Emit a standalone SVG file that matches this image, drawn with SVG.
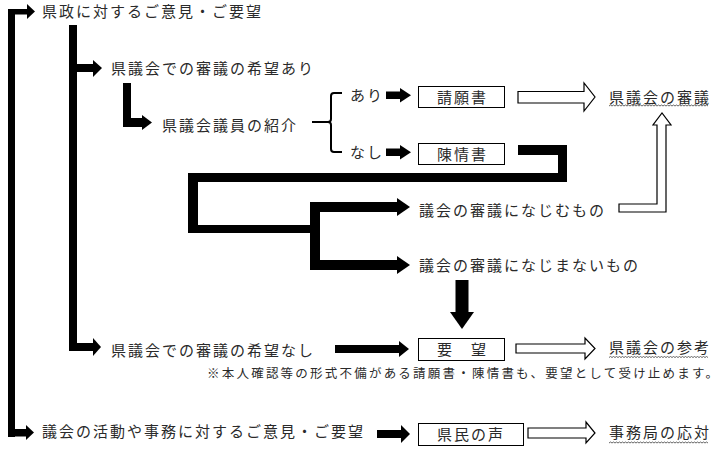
<svg xmlns="http://www.w3.org/2000/svg" width="720" height="449" viewBox="0 0 720 449">
<style>
text{font-family:"Noto Sans CJK JP","Noto Sans CJK SC",sans-serif;font-size:15px;letter-spacing:2px;fill:#2a2a2a}
.note{font-size:12.5px;letter-spacing:0}
.box{fill:#fff;stroke:#000;stroke-width:1}
.blk{fill:#000;stroke:none}
.hol{fill:#fff;stroke:#000;stroke-width:1.2;stroke-linejoin:miter}
.brace{fill:none;stroke:#000;stroke-width:2}
.wavy{fill:none;stroke:#555;stroke-width:0.9}
</style>
<defs>
  <path id="wave" d="M0,0 l1.5,-1 l1.5,1 l1.5,-1 l1.5,1 l1.5,-1 l1.5,1 l1.5,-1 l1.5,1 l1.5,-1 l1.5,1 l1.5,-1 l1.5,1 l1.5,-1 l1.5,1 l1.5,-1 l1.5,1 l1.5,-1 l1.5,1 l1.5,-1 l1.5,1 l1.5,-1 l1.5,1 l1.5,-1 l1.5,1 l1.5,-1 l1.5,1 l1.5,-1 l1.5,1 l1.5,-1 l1.5,1 l1.5,-1 l1.5,1 l1.5,-1 l1.5,1 l1.5,-1 l1.5,1 l1.5,-1 l1.5,1 l1.5,-1 l1.5,1 l1.5,-1 l1.5,1 l1.5,-1 l1.5,1 l1.5,-1 l1.5,1 l1.5,-1 l1.5,1 l1.5,-1 l1.5,1 l1.5,-1 l1.5,1 l1.5,-1 l1.5,1 l1.5,-1 l1.5,1 l1.5,-1 l1.5,1 l1.5,-1 l1.5,1 l1.5,-1 l1.5,1 l1.5,-1 l1.5,1 l1.5,-1 l1.5,1"/>
</defs>
<rect width="720" height="449" fill="#fff"/>
<g id="connectors">
  <rect class="blk" x="8" y="9" width="7" height="428"/>
  <rect class="blk" x="8" y="9" width="20" height="5.5"/>
  <polygon class="blk" points="27,4 35,11.5 27,19"/>
  <rect class="blk" x="8" y="429" width="19" height="7.5"/>
  <polygon class="blk" points="26,425 34,432.5 26,440"/>
  <rect class="blk" x="69" y="25" width="8" height="326"/>
  <rect class="blk" x="69" y="64" width="25" height="8"/>
  <polygon class="blk" points="93,60 102,68 93,77"/>
  <rect class="blk" x="69" y="343" width="25" height="8"/>
  <polygon class="blk" points="93,338 101,347 93,356"/>
  <rect class="blk" x="123" y="83" width="8" height="44"/>
  <rect class="blk" x="123" y="118" width="20" height="9"/>
  <polygon class="blk" points="142,115 152,122.5 142,130"/>
  <path class="brace" d="M312,122 H328 Q331,122 331,119 V96 Q331,93 334,93 H342"/>
  <path class="brace" d="M328,122 Q331,122 331,125 V149 Q331,152 334,152 H342"/>
  <rect class="blk" x="386" y="91.5" width="15" height="7.5"/>
  <polygon class="blk" points="400,88 411,95.3 400,102.5"/>
  <rect class="blk" x="386" y="148.5" width="15" height="7.5"/>
  <polygon class="blk" points="400,145 411,152.3 400,159.5"/>
  <polygon class="blk" points="518,145 567,145 567,182 198,182 198,225 320,225 320,233 188,233 188,173 558,173 558,155 518,155"/>
  <rect class="blk" x="310" y="202" width="10" height="68"/>
  <rect class="blk" x="310" y="202" width="88" height="10"/>
  <polygon class="blk" points="397,198 410,207 397,216"/>
  <rect class="blk" x="310" y="260" width="88" height="10"/>
  <polygon class="blk" points="397,256 410,265 397,274"/>
  <rect class="blk" x="455.5" y="280" width="13" height="33"/>
  <polygon class="blk" points="450,312 474,312 462,329"/>
  <rect class="blk" x="335" y="345" width="65" height="8"/>
  <polygon class="blk" points="399,341 409,349 399,357"/>
  <rect class="blk" x="377" y="430" width="25" height="8"/>
  <polygon class="blk" points="401,425 410,434 401,443"/>
  <polygon class="hol" points="518,91.5 584,91.5 584,83 595,97 584,111 584,103 518,103"/>
  <polygon class="hol" points="619,204 657,204 657,125 653,125 662,113 671,125 666,125 666,212 619,212"/>
  <polygon class="hol" points="516,344 585,344 585,338 595,348.5 585,359 585,353 516,353"/>
  <polygon class="hol" points="528,428 586,428 586,422 595,433 586,443 586,438 528,438"/>
</g>
<g id="n-kensei"><text x="42" y="17">県政に対するご意見・ご要望</text></g>
<g id="n-kibou-ari"><text x="111" y="74">県議会での審議の希望あり</text></g>
<g id="n-shoukai"><text x="162" y="131">県議会議員の紹介</text></g>
<g id="n-ari"><text x="350" y="100.5">あり</text></g>
<g id="n-nashi"><text x="350" y="157.5">なし</text></g>
<g id="n-seigansho"><rect class="box" x="418.5" y="86.5" width="86" height="21"/><text x="437" y="102.5">請願書</text></g>
<g id="n-chinjousho"><rect class="box" x="418.5" y="143.5" width="86" height="21"/><text x="437" y="159.5">陳情書</text></g>
<g id="n-shingi"><text x="609" y="102.5">県議会の審議</text><use href="#wave" class="wavy" x="609" y="106"/></g>
<g id="n-najimu"><text x="419" y="215.5">議会の審議になじむもの</text></g>
<g id="n-najimanai"><text x="419" y="270.5">議会の審議になじまないもの</text></g>
<g id="n-kibou-nashi"><text x="111" y="355.5">県議会での審議の希望なし</text></g>
<g id="n-youbou"><rect class="box" x="418.5" y="338.5" width="86" height="22"/><text x="437" y="355">要　望</text></g>
<g id="n-sankou"><text x="609" y="353">県議会の参考</text><use href="#wave" class="wavy" x="609" y="357.5"/></g>
<g id="n-note"><text class="note" x="207" y="378" textLength="511" lengthAdjust="spacing">※本人確認等の形式不備がある請願書・陳情書も、要望として受け止めます。</text></g>
<g id="n-gikai"><text x="42" y="437">議会の活動や事務に対するご意見・ご要望</text></g>
<g id="n-kenmin"><rect class="box" x="418.5" y="423.5" width="105" height="22"/><text x="437" y="439.5">県民の声</text></g>
<g id="n-jimukyoku"><text x="609" y="437.5">事務局の応対</text><use href="#wave" class="wavy" x="609" y="443"/></g>
</svg>
